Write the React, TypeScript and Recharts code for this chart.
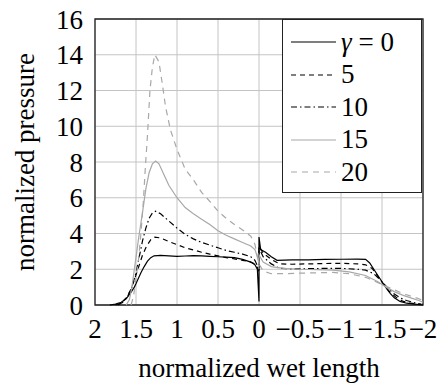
import { CartesianGrid, Legend, Line, LineChart, ReferenceArea, XAxis, YAxis } from "recharts";

// [normalized wet length, normalized pressure]
const gamma0: [number, number][] = [
  [1.82, 0], [1.75, 0.05], [1.68, 0.15], [1.62, 0.35], [1.57, 0.65], [1.52, 1.0], [1.48, 1.4],
  [1.44, 1.8], [1.4, 2.15], [1.36, 2.45], [1.32, 2.65], [1.28, 2.75], [1.2, 2.78], [1.1, 2.75],
  [1.0, 2.72], [0.9, 2.74], [0.8, 2.76], [0.7, 2.75], [0.6, 2.72], [0.5, 2.7], [0.4, 2.68],
  [0.3, 2.65], [0.2, 2.55], [0.1, 2.4], [0.05, 2.25], [0.02, 2.0], [0, 0.2],
  [0, 3.8], [-0.02, 3.1], [-0.08, 2.95], [-0.15, 2.7], [-0.22, 2.5], [-0.4, 2.52], [-0.6, 2.53],
  [-0.8, 2.55], [-1.0, 2.56], [-1.2, 2.57], [-1.3, 2.55], [-1.35, 2.35], [-1.4, 2.0], [-1.45, 1.65],
  [-1.5, 1.3], [-1.55, 0.95], [-1.6, 0.65], [-1.65, 0.4], [-1.72, 0.2], [-1.8, 0.1], [-1.9, 0.05], [-2, 0],
];
const gamma5: [number, number][] = [
  [1.75, 0], [1.68, 0.1], [1.62, 0.4], [1.57, 0.8], [1.52, 1.4], [1.47, 2.1], [1.42, 2.8],
  [1.37, 3.3], [1.32, 3.65], [1.27, 3.8], [1.2, 3.75], [1.1, 3.55], [1.0, 3.38], [0.9, 3.2],
  [0.8, 3.08], [0.7, 2.95], [0.6, 2.85], [0.5, 2.75], [0.4, 2.65], [0.3, 2.58], [0.2, 2.5],
  [0.1, 2.4], [0.05, 2.3], [0.02, 2.1], [0, 1.8],
  [0, 3.3], [-0.05, 2.9], [-0.15, 2.55], [-0.25, 2.3], [-0.4, 2.28], [-0.6, 2.3], [-0.8, 2.32],
  [-1.0, 2.33], [-1.2, 2.3], [-1.3, 2.25], [-1.38, 2.05], [-1.45, 1.6], [-1.52, 1.15], [-1.6, 0.7],
  [-1.68, 0.4], [-1.76, 0.2], [-1.85, 0.1], [-1.95, 0.05],
];
const gamma10: [number, number][] = [
  [1.72, 0], [1.66, 0.15], [1.6, 0.5], [1.55, 1.0], [1.5, 1.8], [1.46, 2.7], [1.42, 3.6],
  [1.38, 4.3], [1.34, 4.85], [1.3, 5.15], [1.26, 5.25], [1.2, 5.1], [1.1, 4.7], [1.0, 4.3],
  [0.9, 3.95], [0.8, 3.7], [0.7, 3.5], [0.6, 3.35], [0.5, 3.2], [0.4, 3.05], [0.3, 2.95],
  [0.2, 2.85], [0.1, 2.7], [0.05, 2.5], [0.02, 2.2], [0, 1.9],
  [0, 3.2], [-0.05, 2.7], [-0.15, 2.3], [-0.25, 2.05], [-0.4, 2.02], [-0.6, 2.03], [-0.8, 2.05],
  [-1.0, 2.05], [-1.2, 2.0], [-1.3, 1.95], [-1.4, 1.75], [-1.48, 1.4], [-1.56, 1.0], [-1.64, 0.65],
  [-1.72, 0.4], [-1.8, 0.25], [-1.9, 0.12], [-1.98, 0.05],
];
const gamma15: [number, number][] = [
  [1.62, 0], [1.58, 0.3], [1.55, 1.0], [1.52, 2.0], [1.49, 3.0], [1.46, 4.0], [1.42, 5.2],
  [1.38, 6.5], [1.34, 7.4], [1.3, 7.9], [1.26, 8.05], [1.22, 7.9], [1.16, 7.3], [1.1, 6.7],
  [1.0, 6.0], [0.9, 5.45], [0.8, 5.1], [0.7, 4.8], [0.6, 4.5], [0.5, 4.15], [0.4, 3.9],
  [0.3, 3.7], [0.2, 3.5], [0.1, 3.3], [0.05, 3.1], [0.02, 2.7], [0, 2.3],
  [0, 2.8], [-0.05, 2.4], [-0.15, 2.15], [-0.3, 2.05], [-0.5, 2.0], [-0.7, 1.98], [-0.9, 1.95],
  [-1.1, 1.85], [-1.3, 1.65], [-1.45, 1.3], [-1.55, 1.0], [-1.65, 0.75], [-1.75, 0.55],
  [-1.85, 0.4], [-1.95, 0.25], [-2, 0.15],
];
const gamma20: [number, number][] = [
  [1.56, 0], [1.53, 0.5], [1.5, 1.5], [1.47, 2.5], [1.44, 4.0], [1.41, 5.8], [1.39, 7.4],
  [1.36, 9.5], [1.33, 12.0], [1.3, 13.3], [1.27, 14.0], [1.22, 13.6], [1.18, 12.4], [1.14, 11.1],
  [1.08, 9.8], [1.0, 8.7], [0.9, 7.6], [0.8, 7.0], [0.7, 6.3], [0.6, 5.8], [0.5, 5.25],
  [0.4, 4.85], [0.3, 4.5], [0.2, 4.2], [0.1, 3.85], [0.05, 3.4], [0.02, 2.7], [0, 2.0],
  [0, 2.3], [-0.05, 1.9], [-0.15, 1.75], [-0.3, 1.75], [-0.5, 1.78], [-0.7, 1.8], [-0.9, 1.82],
  [-1.1, 1.75], [-1.3, 1.55], [-1.45, 1.25], [-1.55, 1.05], [-1.65, 0.85], [-1.75, 0.65],
  [-1.85, 0.5], [-1.95, 0.35], [-2, 0.25],
];

const xTicks = [2, 1.5, 1, 0.5, 0, -0.5, -1, -1.5, -2];
const yTicks = [0, 2, 4, 6, 8, 10, 12, 14, 16];

const GRAY = "#a8a8a8";
const FONT = "Liberation Serif, DejaVu Serif, serif";

const series = [
  { key: "g0", label: "0", data: gamma0, color: "#000", dash: undefined },
  { key: "g5", label: "5", data: gamma5, color: "#000", dash: "5 4" },
  { key: "g10", label: "10", data: gamma10, color: "#000", dash: "6 3 1.5 3" },
  { key: "g15", label: "15", data: gamma15, color: GRAY, dash: undefined },
  { key: "g20", label: "20", data: gamma20, color: GRAY, dash: "6 5" },
];

const fmt = (v: number) => (v < 0 ? "\u2212" + String(-v) : String(v));

function LegendBox() {
  return (
    <div
      style={{
        width: 140,
        height: 174,
        border: "1.3px solid #222",
        background: "#fff",
        boxSizing: "border-box",
        fontFamily: FONT,
        fontSize: 27,
        color: "#000",
        paddingTop: 6,
      }}
    >
      {series.map((s, i) => (
        <div key={s.key} style={{ display: "flex", alignItems: "center", height: 32.5 }}>
          <svg width={58} height={20} style={{ flex: "none" }}>
            <line x1={8} x2={53} y1={10} y2={10} stroke={s.color} strokeWidth={1.2} strokeDasharray={s.dash} />
          </svg>
          <span style={{ lineHeight: 1 }}>
            {i === 0 ? (
              <>
                <span style={{ fontStyle: "italic" }}>γ</span>
                {" = "}
                {s.label}
              </>
            ) : (
              s.label
            )}
          </span>
        </div>
      ))}
    </div>
  );
}

export default function App() {
  return (
    <div style={{ position: "absolute", left: 0, top: 0, background: "#fff" }}>
      <LineChart width={441} height={383} margin={{ top: 19, right: 18, bottom: 0, left: 0 }}>
        <CartesianGrid stroke="#c4c4c4" strokeWidth={1} />
        <XAxis
          type="number"
          dataKey="x"
          domain={[-2, 2]}
          reversed
          ticks={xTicks}
          tickFormatter={fmt}
          height={78}
          tickLine={false}
          axisLine={false}
          tickMargin={8}
          tick={{ fill: "#000", fontFamily: FONT, fontSize: 27 }}
          interval={0}
          allowDataOverflow
          label={{ value: "normalized wet length", position: "insideBottom", offset: 6, fill: "#000", fontFamily: FONT, fontSize: 27 }}
        />
        <YAxis
          type="number"
          domain={[0, 16]}
          ticks={yTicks}
          width={95}
          tickLine={false}
          axisLine={false}
          tickMargin={6}
          tick={{ fill: "#000", fontFamily: FONT, fontSize: 27 }}
          interval={0}
          label={{ value: "normalized pressure", angle: -90, position: "insideLeft", offset: 24, style: { textAnchor: "middle" }, fill: "#000", fontFamily: FONT, fontSize: 27 }}
        />
        <ReferenceArea x1={2} x2={-2} y1={0} y2={16} fill="none" fillOpacity={0} stroke="#222" strokeWidth={1.3} ifOverflow="visible" />
        {series.map((s) => (
          <Line
            key={s.key}
            data={s.data.map(([x, y]) => ({ x, y }))}
            dataKey="y"
            type="linear"
            stroke={s.color}
            strokeWidth={1.2}
            strokeDasharray={s.dash}
            dot={false}
            activeDot={false}
            isAnimationActive={false}
          />
        ))}
        <Legend
          layout="vertical"
          align="center"
          verticalAlign="middle"
          wrapperStyle={{ position: "absolute", top: 19, left: 282, width: 141, height: 175 }}
          content={() => <LegendBox />}
        />
      </LineChart>
    </div>
  );
}
